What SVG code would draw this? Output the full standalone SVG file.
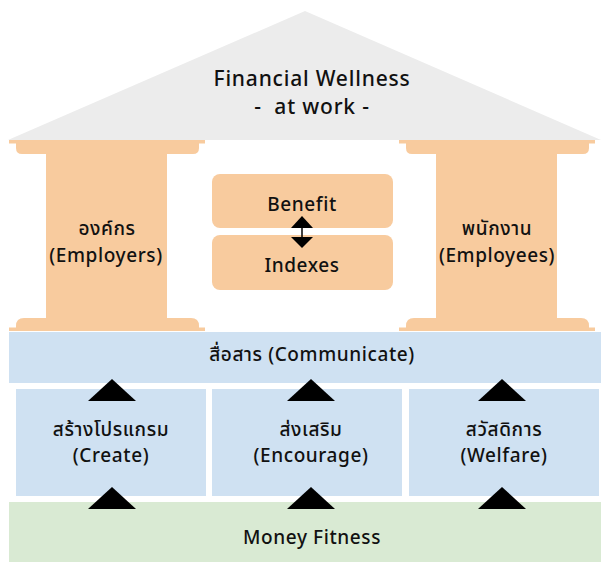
<svg xmlns="http://www.w3.org/2000/svg" width="601" height="562" viewBox="0 0 601 562">
<style>
text{font-family:"Noto Sans","Noto Sans Thai","DejaVu Sans",sans-serif;fill:#111;text-anchor:middle;font-size:19px;font-weight:500;letter-spacing:0.6px}
text.title{font-size:21px;letter-spacing:0.8px}
.pillar{fill:#f8cb9e}
.blue{fill:#cfe1f2}
.green{fill:#d9ead3}
.tri{fill:#000}
</style>
<defs>
<g id="column">
<rect class="pillar" x="9" y="140" width="196" height="3.5"/>
<path class="pillar" d="M16 142 H199 V148 Q199 154 193 154 H22 Q16 154 16 148 Z"/>
<rect class="pillar" x="46" y="150" width="121" height="172"/>
<path class="pillar" d="M16 329 V326 Q16 318 24 318 H191 Q199 318 199 326 V329 Z"/>
<rect class="pillar" x="9" y="327.5" width="196" height="3.5"/>
</g>
<path id="up" class="tri" d="M0 -11 L24 11 H-24 Z"/>
</defs>
<g id="roof">
<polygon points="8,140 305,11 601,140" fill="#ececec"/>
<text class="title" x="312" y="86">Financial Wellness</text>
<text class="title" x="312" y="114" xml:space="preserve">-  at work -</text>
</g>
<g id="employers">
<use href="#column"/>
<text x="107" y="235">องค์กร</text>
<text x="106" y="262">(Employers)</text>
</g>
<g id="employees">
<use href="#column" x="390"/>
<text x="497" y="235">พนักงาน</text>
<text x="497" y="262">(Employees)</text>
</g>
<g id="benefit">
<rect class="pillar" x="212" y="174" width="181" height="54" rx="8"/>
<text x="302" y="211">Benefit</text>
</g>
<g id="indexes">
<rect class="pillar" x="212" y="235" width="181" height="55" rx="8"/>
<text x="302" y="272">Indexes</text>
</g>
<g id="communicate">
<rect class="blue" x="9" y="332" width="592" height="51"/>
<text x="312" y="361">สื่อสาร (Communicate)</text>
</g>
<g id="create">
<rect class="blue" x="16" y="389" width="190" height="107"/>
<text x="111" y="436">สร้างโปรแกรม</text>
<text x="111" y="462">(Create)</text>
</g>
<g id="encourage">
<rect class="blue" x="212" y="389" width="190" height="107"/>
<text x="311" y="436">ส่งเสริม</text>
<text x="311" y="462">(Encourage)</text>
</g>
<g id="welfare">
<rect class="blue" x="409" y="389" width="190" height="107"/>
<text x="504" y="436">สวัสดิการ</text>
<text x="504" y="462">(Welfare)</text>
</g>
<g id="money-fitness">
<rect class="green" x="9" y="502" width="592" height="60"/>
<text x="312" y="544">Money Fitness</text>
</g>
<g id="connectors">
<use href="#up" x="112" y="390"/>
<use href="#up" x="311" y="390"/>
<use href="#up" x="502" y="390"/>
<use href="#up" x="112" y="498"/>
<use href="#up" x="311" y="498"/>
<use href="#up" x="502" y="498"/>
<line x1="302" y1="222" x2="302" y2="242" stroke="#000" stroke-width="1.5"/>
<path class="tri" d="M302 216 L313 228 H291 Z"/>
<path class="tri" d="M302 248 L313 237 H291 Z"/>
</g>
</svg>
